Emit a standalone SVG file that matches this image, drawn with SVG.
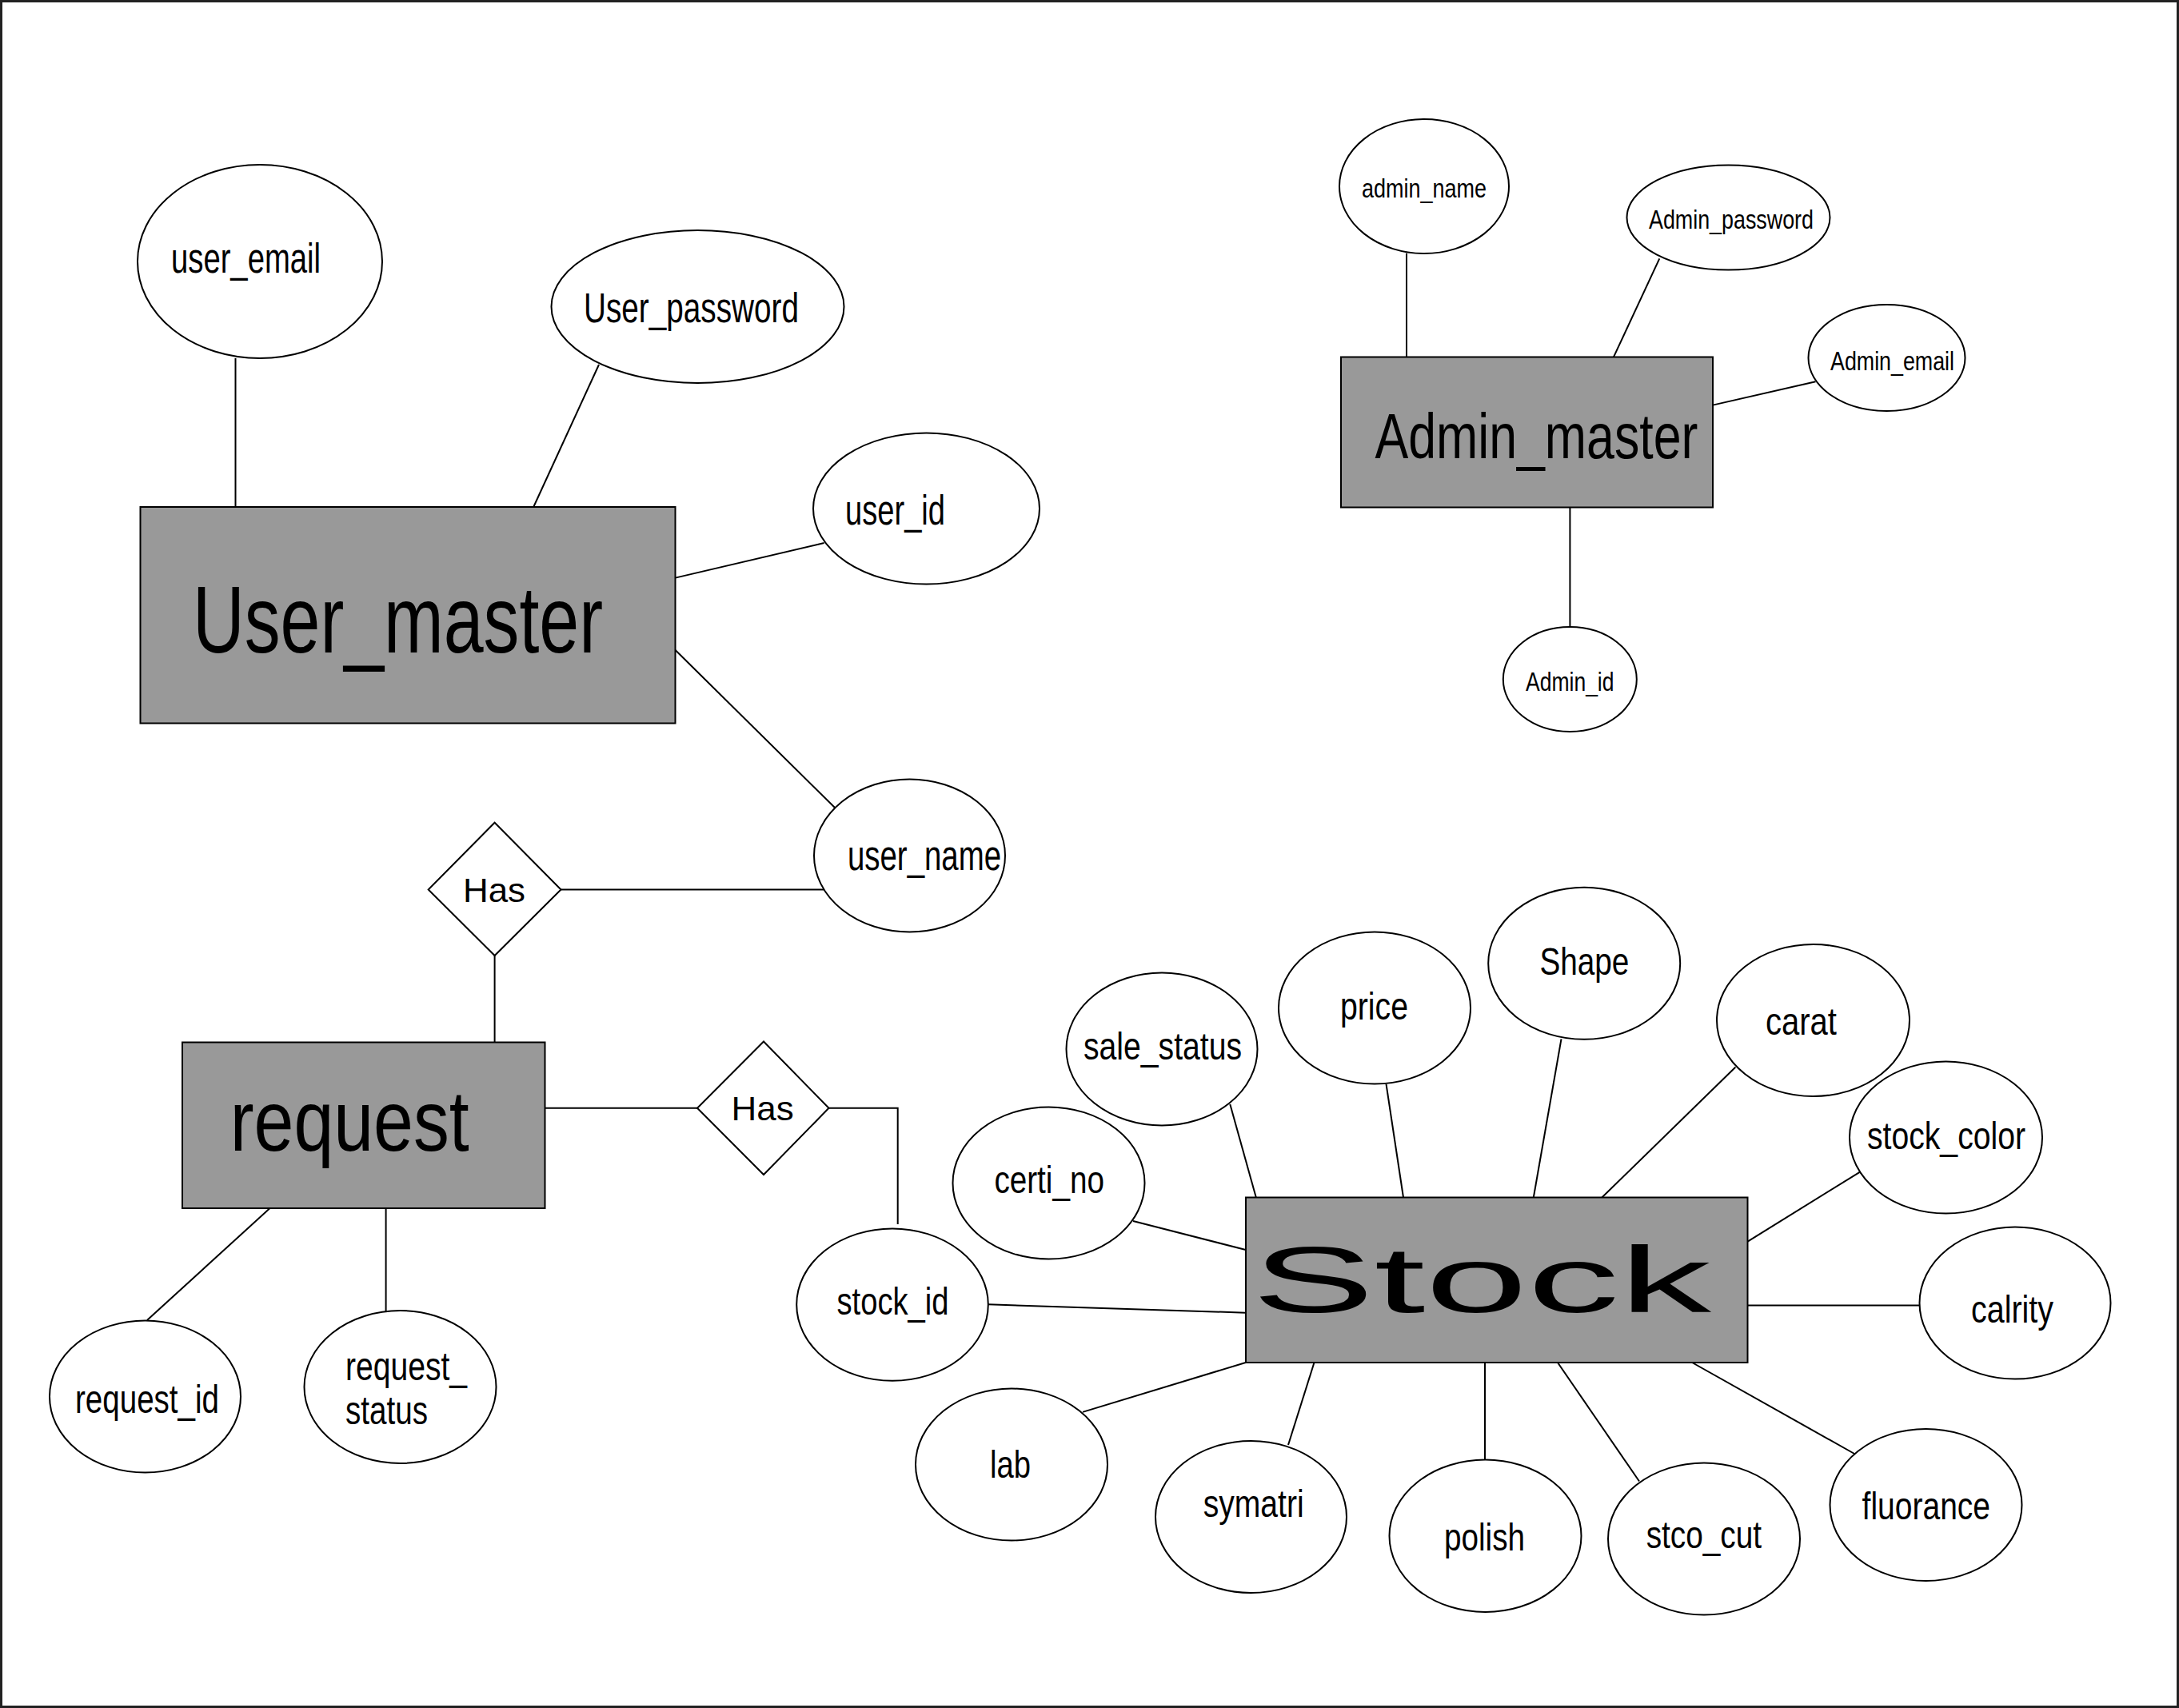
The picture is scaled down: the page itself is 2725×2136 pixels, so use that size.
<svg xmlns="http://www.w3.org/2000/svg" width="2725" height="2136" viewBox="0 0 2725 2136">
<style>
.ent{fill:#999999;stroke:#000;stroke-width:2}
.att{fill:#fff;stroke:#000;stroke-width:2}
.rel{fill:#fff;stroke:#000;stroke-width:2}
.ln{stroke:#000;stroke-width:2;fill:none}
text{font-family:"Liberation Sans Narrow","Liberation Sans",Arial,sans-serif;fill:#000}
.n{font-family:"Liberation Sans",Arial,sans-serif}
.ua{font-size:51px}
.ra{font-size:50px}
.sa{font-size:48px}
.aa{font-size:34px}
</style>
<rect x="0" y="0" width="2725" height="2136" fill="#fff"/>
<rect x="1.5" y="1.5" width="2722" height="2133" fill="none" stroke="#222" stroke-width="3"/>
<g id="connectors">
<line class="ln" x1="294.5" y1="448" x2="294.5" y2="634"/>
<line class="ln" x1="749" y1="456" x2="667" y2="634.5"/>
<line class="ln" x1="844.6" y1="722.6" x2="1030.6" y2="679"/>
<line class="ln" x1="844.6" y1="813" x2="1044" y2="1010"/>
<line class="ln" x1="701.5" y1="1112.5" x2="1032" y2="1112.5"/>
<line class="ln" x1="618.6" y1="1195" x2="618.6" y2="1303"/>
<line class="ln" x1="676" y1="1385.8" x2="872" y2="1385.8"/>
<polyline class="ln" points="1036.5,1385.8 1122.7,1385.8 1122.7,1531"/>
<line class="ln" x1="337.5" y1="1511" x2="184" y2="1651"/>
<line class="ln" x1="482.6" y1="1511" x2="482.6" y2="1640"/>
<line class="ln" x1="1759" y1="316.8" x2="1759" y2="446.4"/>
<line class="ln" x1="2075.3" y1="323.3" x2="2018" y2="446.4"/>
<line class="ln" x1="2141.9" y1="506.6" x2="2270.5" y2="477.3"/>
<line class="ln" x1="1963.4" y1="634.5" x2="1963.4" y2="784"/>
<line class="ln" x1="1538.3" y1="1381" x2="1570.8" y2="1497.5"/>
<line class="ln" x1="1733.5" y1="1355.7" x2="1755" y2="1497.5"/>
<line class="ln" x1="1952.5" y1="1299.3" x2="1917.8" y2="1497.5"/>
<line class="ln" x1="2170.4" y1="1334.5" x2="2003.4" y2="1497.5"/>
<line class="ln" x1="2326.5" y1="1465.3" x2="2185.6" y2="1552.6"/>
<line class="ln" x1="2185.6" y1="1632.6" x2="2400.2" y2="1632.6"/>
<line class="ln" x1="1235.9" y1="1631.3" x2="1557.8" y2="1641.7"/>
<line class="ln" x1="1417" y1="1527" x2="1557.8" y2="1563"/>
<line class="ln" x1="1354" y1="1765.9" x2="1557.8" y2="1704"/>
<line class="ln" x1="1611" y1="1807" x2="1643.5" y2="1704"/>
<line class="ln" x1="1857" y1="1704" x2="1857" y2="1825.2"/>
<line class="ln" x1="1948" y1="1704" x2="2050" y2="1852.5"/>
<line class="ln" x1="2116.2" y1="1704" x2="2319" y2="1818"/>
</g>
<g id="User_master"><rect class="ent" x="175.5" y="634" width="669" height="270.5"/><text x="241" y="816" font-size="118" textLength="513" lengthAdjust="spacingAndGlyphs">User_master</text></g>
<g id="user_email"><ellipse class="att" cx="325" cy="327" rx="153" ry="121"/><text class="ua" x="214" y="341" textLength="187" lengthAdjust="spacingAndGlyphs">user_email</text></g>
<g id="User_password"><ellipse class="att" cx="872.5" cy="383.5" rx="183" ry="95.5"/><text class="ua" x="730" y="403" textLength="269" lengthAdjust="spacingAndGlyphs">User_password</text></g>
<g id="user_id"><ellipse class="att" cx="1158.5" cy="636" rx="141.5" ry="94.5"/><text class="ua" x="1057" y="656" textLength="125" lengthAdjust="spacingAndGlyphs">user_id</text></g>
<g id="user_name"><ellipse class="att" cx="1137.5" cy="1070" rx="119.5" ry="95.5"/><text class="ua" x="1060" y="1088" textLength="192" lengthAdjust="spacingAndGlyphs">user_name</text></g>
<g id="has_user"><polygon class="rel" points="618.6,1028.7 701.5,1112.5 618.6,1195 535.7,1112.5"/><text class="n" x="579" y="1127.5" font-size="43" textLength="78" lengthAdjust="spacingAndGlyphs">Has</text></g>
<g id="request"><rect class="ent" x="228" y="1303.5" width="453.5" height="207.5"/><text x="287.7" y="1439" font-size="108" textLength="299" lengthAdjust="spacingAndGlyphs">request</text></g>
<g id="has_stock"><polygon class="rel" points="955,1302.5 1036.5,1385.8 955,1469 872,1385.8"/><text class="n" x="914.6" y="1400.5" font-size="43" textLength="78" lengthAdjust="spacingAndGlyphs">Has</text></g>
<g id="request_id"><ellipse class="att" cx="181.5" cy="1746.5" rx="119.5" ry="95"/><text class="ra" x="94" y="1767" textLength="180" lengthAdjust="spacingAndGlyphs">request_id</text></g>
<g id="request_status"><ellipse class="att" cx="500.5" cy="1734.5" rx="120" ry="95.5"/><text class="ra" x="432" y="1726" textLength="152" lengthAdjust="spacingAndGlyphs">request_</text><text class="ra" x="432" y="1781" textLength="103" lengthAdjust="spacingAndGlyphs">status</text></g>
<g id="Admin_master"><rect class="ent" x="1677" y="446.5" width="465" height="188"/><text x="1719.4" y="572.7" font-size="80" textLength="404" lengthAdjust="spacingAndGlyphs">Admin_master</text></g>
<g id="admin_name"><ellipse class="att" cx="1781" cy="233" rx="106" ry="84"/><text class="aa" x="1703" y="247" textLength="156" lengthAdjust="spacingAndGlyphs">admin_name</text></g>
<g id="Admin_password"><ellipse class="att" cx="2161.5" cy="272" rx="127" ry="65.5"/><text class="aa" x="2062" y="286" textLength="206" lengthAdjust="spacingAndGlyphs">Admin_password</text></g>
<g id="Admin_email"><ellipse class="att" cx="2359.5" cy="447.5" rx="98" ry="66.5"/><text class="aa" x="2289" y="463" textLength="155" lengthAdjust="spacingAndGlyphs">Admin_email</text></g>
<g id="Admin_id"><ellipse class="att" cx="1963.3" cy="849.5" rx="83.5" ry="65.5"/><text class="aa" x="1908" y="864" textLength="110.5" lengthAdjust="spacingAndGlyphs">Admin_id</text></g>
<g id="Stock"><rect class="ent" x="1558" y="1497.5" width="627.5" height="206.5"/><text class="n" x="1565.4" y="1641" font-size="117" textLength="574.6" lengthAdjust="spacingAndGlyphs">Stock</text></g>
<g id="sale_status"><ellipse class="att" cx="1453" cy="1312" rx="119.5" ry="95.5"/><text class="sa" x="1355" y="1325" textLength="198" lengthAdjust="spacingAndGlyphs">sale_status</text></g>
<g id="price"><ellipse class="att" cx="1719" cy="1260.5" rx="120" ry="95"/><text class="sa" x="1676" y="1275" textLength="85" lengthAdjust="spacingAndGlyphs">price</text></g>
<g id="Shape"><ellipse class="att" cx="1981.2" cy="1204.8" rx="120" ry="95"/><text class="sa" x="1925.4" y="1218.5" textLength="112" lengthAdjust="spacingAndGlyphs">Shape</text></g>
<g id="carat"><ellipse class="att" cx="2267.5" cy="1276" rx="120.5" ry="95"/><text class="sa" x="2208" y="1294" textLength="89" lengthAdjust="spacingAndGlyphs">carat</text></g>
<g id="stock_color"><ellipse class="att" cx="2433.5" cy="1422.5" rx="120.5" ry="95"/><text class="sa" x="2335" y="1436.5" textLength="198" lengthAdjust="spacingAndGlyphs">stock_color</text></g>
<g id="calrity"><ellipse class="att" cx="2520" cy="1629.5" rx="119.5" ry="95"/><text class="sa" x="2465" y="1654" textLength="103" lengthAdjust="spacingAndGlyphs">calrity</text></g>
<g id="stock_id"><ellipse class="att" cx="1116" cy="1631.6" rx="119.8" ry="95.2"/><text class="sa" x="1046.5" y="1644" textLength="140" lengthAdjust="spacingAndGlyphs">stock_id</text></g>
<g id="certi_no"><ellipse class="att" cx="1311.5" cy="1479.5" rx="120" ry="95"/><text class="sa" x="1243.4" y="1492" textLength="137.6" lengthAdjust="spacingAndGlyphs">certi_no</text></g>
<g id="lab"><ellipse class="att" cx="1265" cy="1831.5" rx="120" ry="95"/><text class="sa" x="1238" y="1848" textLength="51" lengthAdjust="spacingAndGlyphs">lab</text></g>
<g id="symatri"><ellipse class="att" cx="1564.5" cy="1897" rx="119.5" ry="95"/><text class="sa" x="1504.7" y="1897" textLength="126" lengthAdjust="spacingAndGlyphs">symatri</text></g>
<g id="polish"><ellipse class="att" cx="1857.5" cy="1920.8" rx="120" ry="95.2"/><text class="sa" x="1806" y="1939" textLength="101" lengthAdjust="spacingAndGlyphs">polish</text></g>
<g id="stco_cut"><ellipse class="att" cx="2131" cy="1924.5" rx="120" ry="95"/><text class="sa" x="2058.7" y="1936" textLength="144.3" lengthAdjust="spacingAndGlyphs">stco_cut</text></g>
<g id="fluorance"><ellipse class="att" cx="2408.5" cy="1882" rx="120" ry="95"/><text class="sa" x="2328.6" y="1900" textLength="160.4" lengthAdjust="spacingAndGlyphs">fluorance</text></g>
</svg>
